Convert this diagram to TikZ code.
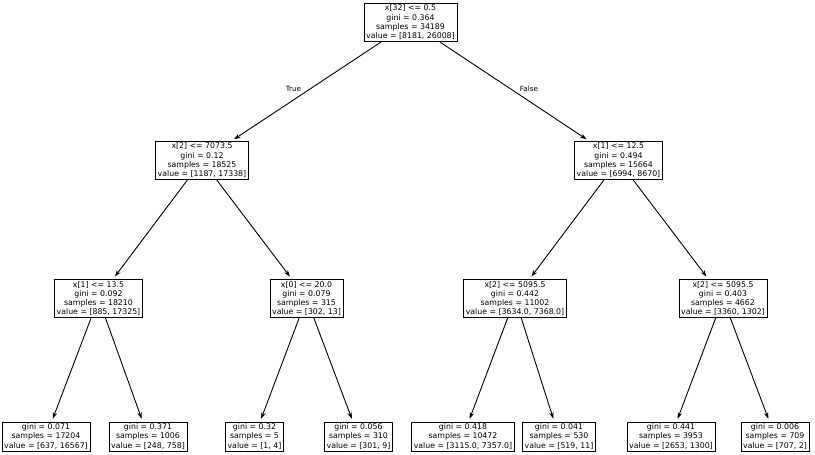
\documentclass[tikz,border=0pt]{standalone}
\usepackage{fontspec}
\setmainfont{DejaVu Sans}
\usetikzlibrary{arrows.meta}
\begin{document}
\begin{tikzpicture}[x=1pt,y=1pt,
  treenode/.style={draw=black, line width=0.9pt, fill=white, inner xsep=2.2pt, inner ysep=1.7pt,
    align=center, font=\fontsize{7.8}{9.3}\selectfont},
  edge/.style={draw=black, line width=0.9pt, shorten >=3pt, -{Stealth[length=6.5pt,width=4.5pt]}},
  edgelabel/.style={font=\fontsize{7.2}{8.6}\selectfont, inner sep=0pt}]
\useasboundingbox (0,0) rectangle (815,-455);
\node[treenode] (root) at (410.5,-22.5) {x[32] <= 0.5\\gini = 0.364\\samples = 34189\\value = [8181, 26008]};
\node[treenode] (n1) at (202,-160.5) {x[2] <= 7073.5\\gini = 0.12\\samples = 18525\\value = [1187, 17338]};
\node[treenode] (n2) at (618.5,-160.5) {x[1] <= 12.5\\gini = 0.494\\samples = 15664\\value = [6994, 8670]};
\node[treenode] (n3) at (98.5,-298.5) {x[1] <= 13.5\\gini = 0.092\\samples = 18210\\value = [885, 17325]};
\node[treenode] (n4) at (306.5,-298.5) {x[0] <= 20.0\\gini = 0.079\\samples = 315\\value = [302, 13]};
\node[treenode] (n5) at (515,-298.5) {x[2] <= 5095.5\\gini = 0.442\\samples = 11002\\value = [3634.0, 7368.0]};
\node[treenode] (n6) at (723,-298.5) {x[2] <= 5095.5\\gini = 0.403\\samples = 4662\\value = [3360, 1302]};
\node[treenode] (l1) at (46,-436.5) {gini = 0.071\\samples = 17204\\value = [637, 16567]};
\node[treenode] (l2) at (148,-436.5) {gini = 0.371\\samples = 1006\\value = [248, 758]};
\node[treenode] (l3) at (254.5,-436.5) {gini = 0.32\\samples = 5\\value = [1, 4]};
\node[treenode] (l4) at (358.5,-436.5) {gini = 0.056\\samples = 310\\value = [301, 9]};
\node[treenode] (l5) at (463,-436.5) {gini = 0.418\\samples = 10472\\value = [3115.0, 7357.0]};
\node[treenode] (l6) at (559,-436.5) {gini = 0.041\\samples = 530\\value = [519, 11]};
\node[treenode] (l7) at (671,-436.5) {gini = 0.441\\samples = 3953\\value = [2653, 1300]};
\node[treenode] (l8) at (775,-436.5) {gini = 0.006\\samples = 709\\value = [707, 2]};
\draw[edge] (root) -- (n1);
\draw[edge] (root) -- (n2);
\draw[edge] (n1) -- (n3);
\draw[edge] (n1) -- (n4);
\draw[edge] (n2) -- (n5);
\draw[edge] (n2) -- (n6);
\draw[edge] (n3) -- (l1);
\draw[edge] (n3) -- (l2);
\draw[edge] (n4) -- (l3);
\draw[edge] (n4) -- (l4);
\draw[edge] (n5) -- (l5);
\draw[edge] (n5) -- (l6);
\draw[edge] (n6) -- (l7);
\draw[edge] (n6) -- (l8);
\node[edgelabel] (lt) at (293.5,-89) {True};
\node[edgelabel] (lf) at (529,-89) {False};
\end{tikzpicture}
\end{document}
